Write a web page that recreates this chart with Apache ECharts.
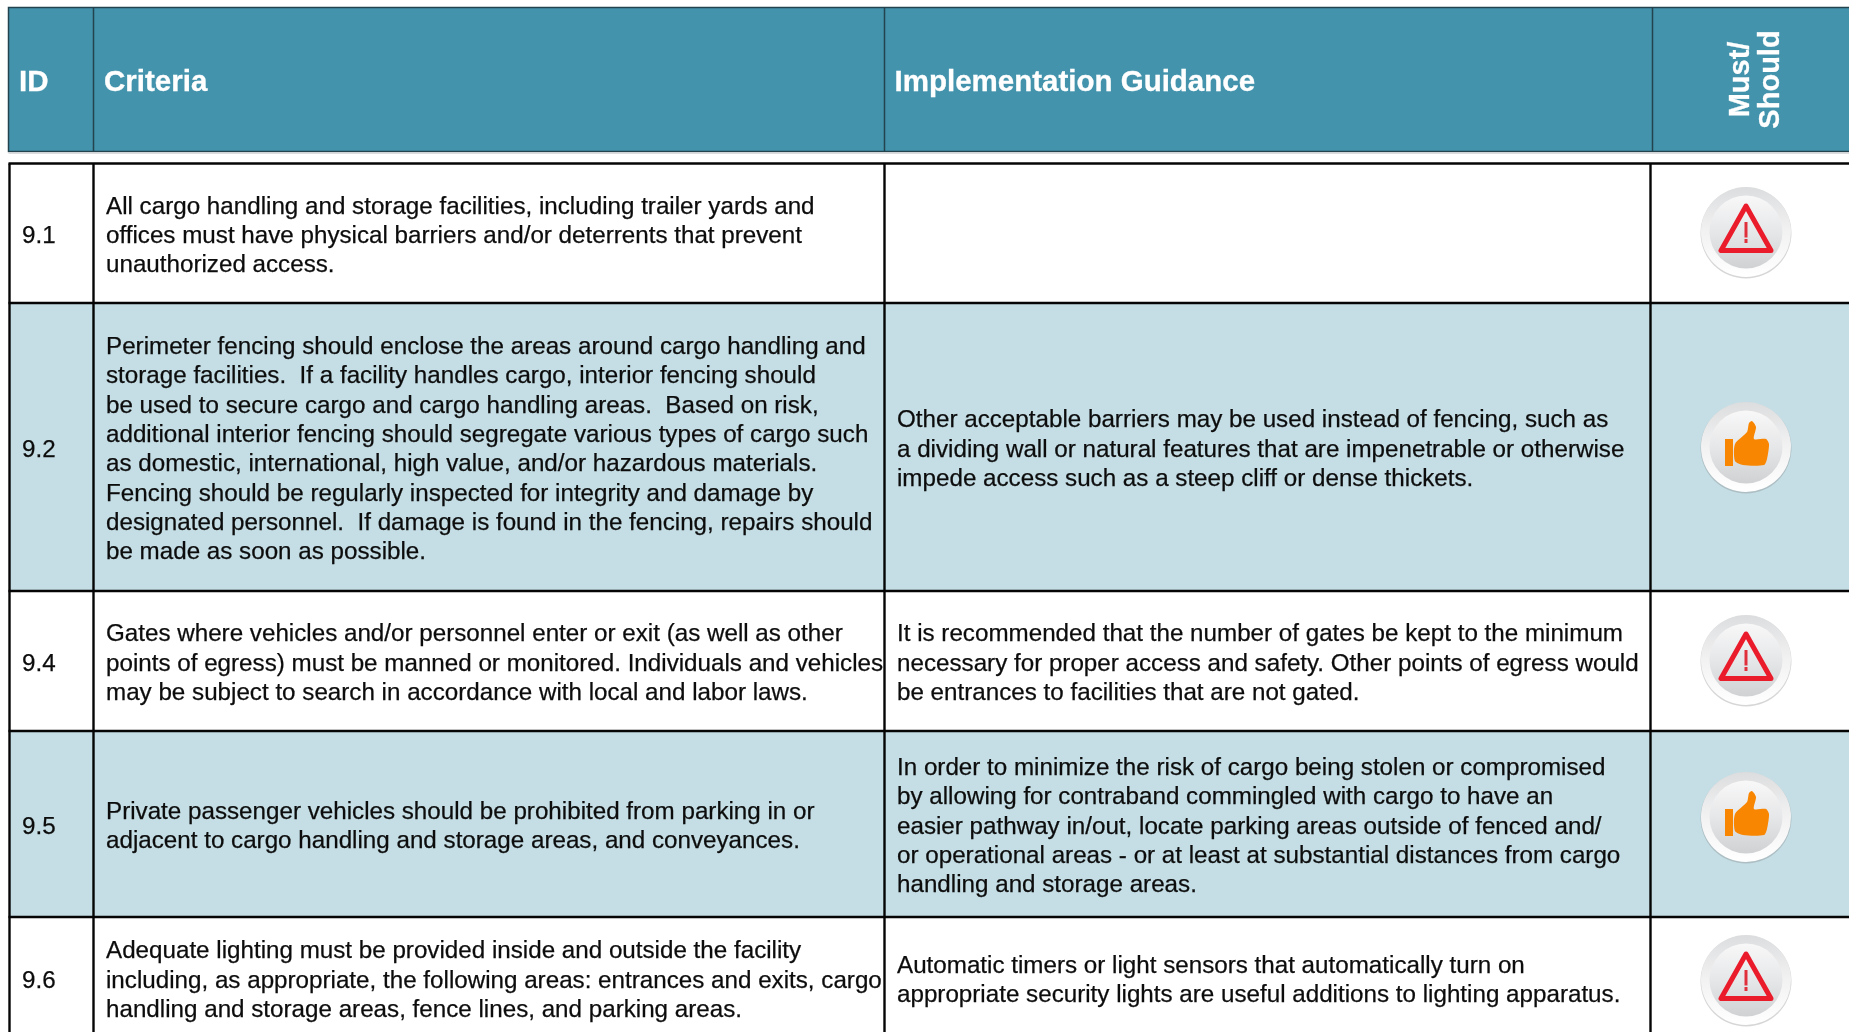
<!DOCTYPE html>
<html><head><meta charset="utf-8">
<style>html,body{margin:0;padding:0;background:#fff}#c{width:1849px;height:1032px}</style>
<script src="https://cdn.jsdelivr.net/npm/echarts@6/dist/echarts.min.js"></script>
</head><body><div id="c"></div>
<script>
// ---- content ----
const headers = ["ID", "Criteria", "Implementation Guidance"];
const mustShouldHeader = ["Must/", "Should"];
const ids = ["9.1", "9.2", "9.4", "9.5", "9.6"];
const criteria = [
  ["All cargo handling and storage facilities, including trailer yards and",
   "offices must have physical barriers and/or deterrents that prevent",
   "unauthorized access."],
  ["Perimeter fencing should enclose the areas around cargo handling and",
   "storage facilities.  If a facility handles cargo, interior fencing should",
   "be used to secure cargo and cargo handling areas.  Based on risk,",
   "additional interior fencing should segregate various types of cargo such",
   "as domestic, international, high value, and/or hazardous materials.",
   "Fencing should be regularly inspected for integrity and damage by",
   "designated personnel.  If damage is found in the fencing, repairs should",
   "be made as soon as possible."],
  ["Gates where vehicles and/or personnel enter or exit (as well as other",
   "points of egress) must be manned or monitored. Individuals and vehicles",
   "may be subject to search in accordance with local and labor laws."],
  ["Private passenger vehicles should be prohibited from parking in or",
   "adjacent to cargo handling and storage areas, and conveyances."],
  ["Adequate lighting must be provided inside and outside the facility",
   "including, as appropriate, the following areas: entrances and exits, cargo",
   "handling and storage areas, fence lines, and parking areas."]
];
const guidance = [
  [],
  ["Other acceptable barriers may be used instead of fencing, such as",
   "a dividing wall or natural features that are impenetrable or otherwise",
   "impede access such as a steep cliff or dense thickets."],
  ["It is recommended that the number of gates be kept to the minimum",
   "necessary for proper access and safety. Other points of egress would",
   "be entrances to facilities that are not gated."],
  ["In order to minimize the risk of cargo being stolen or compromised",
   "by allowing for contraband commingled with cargo to have an",
   "easier pathway in/out, locate parking areas outside of fenced and/",
   "or operational areas - or at least at substantial distances from cargo",
   "handling and storage areas."],
  ["Automatic timers or light sensors that automatically turn on",
   "appropriate security lights are useful additions to lighting apparatus."]
];
const mustShould = ["must", "should", "must", "should", "must"];

// ---- layout (pixel scale of the hidden axes) ----
const W = 1849, H = 1032;
const headTop = 7.5, headBottom = 151.5, headLeft = 8.5;
const headCols = [93.5, 884.5, 1652.5];
const bodyLeft = 9.5, bodyCols = [93.5, 884.5, 1650.5];
const rowEdges = [163.5, 303, 591, 731, 917, 1039];
const FONT = '"Liberation Sans", Arial, sans-serif';
const INK = '#0c0c0c', TEAL = '#4393ac', BAND = '#c5dee5', HEADLINE = '#23434f';
const bodySize = 24.2, lineH = 29.3, headSize = 29.5;
const idX = 22, critX = 106, guidX = 897;
const iconX = 1746;

const chart = echarts.init(document.getElementById('c'), null, {renderer:'canvas'});
const P = (api,x,y)=>api.coord([x,y]);
function rectShape(api,x0,y0,x1,y1){const a=P(api,x0,y0),b=P(api,x1,y1);return {x:a[0],y:a[1],width:b[0]-a[0],height:b[1]-a[1]};}
function seg(api,x0,y0,x1,y1,color,w){const a=P(api,x0,y0),b=P(api,x1,y1);
  return {type:'line',shape:{x1:a[0],y1:a[1],x2:b[0],y2:b[1]},style:{stroke:color,lineWidth:w}};}
function linesOf(api,lines,x,cy){
  return lines.map((t,i)=>{const p=P(api,x,cy+(i-(lines.length-1)/2)*lineH);
    return {type:'text',x:p[0],y:p[1],style:{text:t,fill:INK,stroke:INK,lineWidth:0.25,font:bodySize+'px '+FONT,textAlign:'left',textVerticalAlign:'middle'}};});
}
function disc(cx,cy){
  const g=(x0,y0,x1,y1,s)=>({type:'linear',x:x0,y:y0,x2:x1,y2:y1,colorStops:s.map((c,i)=>({offset:i/(s.length-1),color:c}))});
  return [
    {type:'circle',shape:{cx:cx,cy:cy+1,r:45.5},style:{fill:'rgba(120,120,120,0.3)'}},
    {type:'circle',shape:{cx:cx,cy:cy,r:45},style:{fill:g(0,0,0,1,['#dcddde','#f2f2f3','#ffffff'])}},
    {type:'circle',shape:{cx:cx,cy:cy,r:36.5},style:{fill:g(0,0,0,1,['#f8f8f9','#e6e7e8','#cfd1d3'])}}
  ];
}
function warning(cx,cy){
  return [
    {type:'polygon',shape:{points:[[cx,cy-26],[cx-25,cy+18.5],[cx+25,cy+18.5]]},
     style:{fill:'rgba(255,255,255,0)',stroke:'#ea1c2c',lineWidth:5,lineJoin:'round'}},
    {type:'rect',shape:{x:cx-1.5,y:cy-10,width:3,height:15.5},style:{fill:'#e0303c'}},
    {type:'rect',shape:{x:cx-1.5,y:cy+7,width:3,height:4},style:{fill:'#e0303c'}}
  ];
}
function thumb(cx,cy){
  const pts=[[-11,-3],[1,-15],[3,-24],[6,-26],[10,-20],[8,-8],[20,-8],[23,-3],[21,12],[18,18],[-3,18],[-11,14]];
  return [
    {type:'rect',shape:{x:cx-21,y:cy-8,width:8,height:27},style:{fill:'#f98600'}},
    {type:'polygon',shape:{points:pts.map(p=>[cx+p[0],cy+p[1]]),smooth:0.25},style:{fill:'#f98600'}}
  ];
}
const iconCenters = [232,447,660,817,980];

const option = {
  animation:false,
  grid:{left:0,right:0,top:0,bottom:0},
  xAxis:{type:'value',min:0,max:W,show:false},
  yAxis:{type:'value',min:0,max:H,inverse:true,show:false},
  series:[
    {type:'custom',name:'header',coordinateSystem:'cartesian2d',data:[[0,0]],silent:true,z:1,
     renderItem(p,api){
       const ch=[{type:'rect',shape:rectShape(api,headLeft,headTop,W+2,headBottom),style:{fill:TEAL,stroke:HEADLINE,lineWidth:1.5}},
         {type:'rect',shape:rectShape(api,headLeft,headBottom+1,W,headBottom+2.5),style:{fill:'#dcdcdc'}}];
       headCols.forEach(x=>ch.push(seg(api,x,headTop,x,headBottom,HEADLINE,1.5)));
       const hx=[19,104,894.5], cy=(headTop+headBottom)/2+3;
       headers.forEach((t,i)=>{const q=P(api,hx[i],cy);
         ch.push({type:'text',x:q[0],y:q[1],style:{text:t,fill:'#fff',stroke:'#fff',lineWidth:0.3,font:'bold '+headSize+'px '+FONT,textVerticalAlign:'middle'}});});
       const mx=[1741,1771];
       mustShouldHeader.forEach((t,i)=>{const q=P(api,mx[i],79.5);
         ch.push({type:'text',x:q[0],y:q[1],rotation:Math.PI/2,style:{text:t,fill:'#fff',stroke:'#fff',lineWidth:0.3,font:'bold 29px '+FONT,textAlign:'center',textVerticalAlign:'middle'}});});
       return {type:'group',children:ch};
     }},
    {type:'custom',name:'bands',coordinateSystem:'cartesian2d',data:ids.map((_,i)=>[i,0]),silent:true,z:2,
     renderItem(p,api){const i=api.value(0);
       return {type:'rect',shape:rectShape(api,bodyLeft,rowEdges[i],W,i===ids.length-1?H+2:rowEdges[i+1]),style:{fill:i%2?BAND:'#fff'}};}},
    {type:'custom',name:'rules',coordinateSystem:'cartesian2d',data:[[0,0]],silent:true,z:3,
     renderItem(p,api){
       const ch=[];
       rowEdges.slice(0,-1).forEach(y=>ch.push(seg(api,bodyLeft-1,y,W,y,'#050505',2.4)));
       [bodyLeft].concat(bodyCols).forEach(x=>ch.push(seg(api,x,rowEdges[0],x,H,'#050505',2.4)));
       return {type:'group',children:ch};
     }},
    {type:'custom',name:'rows',coordinateSystem:'cartesian2d',data:ids.map((_,i)=>[i,0]),silent:true,z:4,
     renderItem(p,api){const i=api.value(0), cy=(rowEdges[i]+rowEdges[i+1])/2+3;
       const ch=[].concat(linesOf(api,[ids[i]],idX,cy),linesOf(api,criteria[i],critX,cy),linesOf(api,guidance[i],guidX,cy));
       const c=P(api,iconX,iconCenters[i]);
       ch.push(...disc(c[0],c[1]));
       ch.push(...(mustShould[i]==='must'?warning(c[0],c[1]):thumb(c[0],c[1])));
       return {type:'group',children:ch};
     }}
  ]
};
chart.setOption(option);
</script></body></html>
